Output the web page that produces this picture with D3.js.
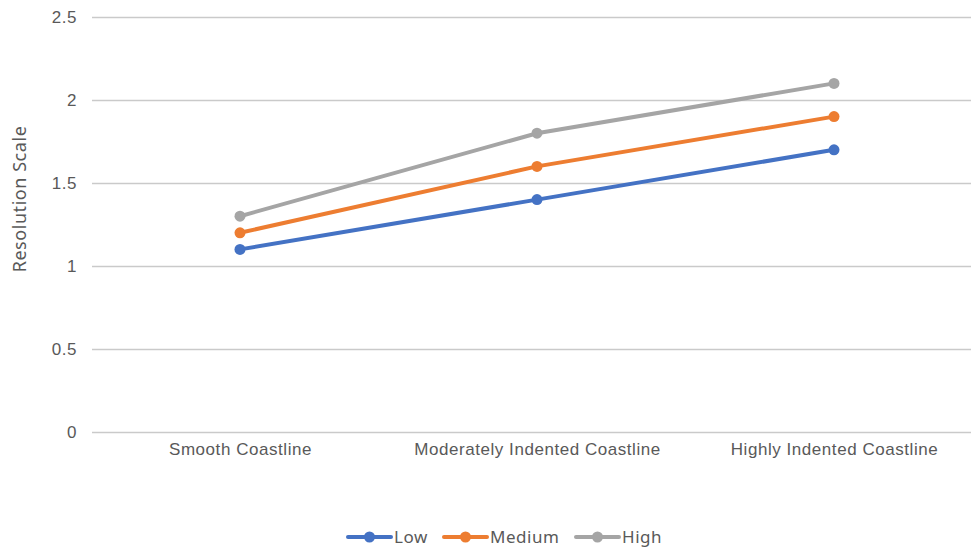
<!DOCTYPE html>
<html><head><meta charset="utf-8">
<script src="https://cdn.jsdelivr.net/npm/d3@7"></script>
<style>body{margin:0;background:#fff;}svg{display:block;font-family:"Noto Sans","Open Sans",sans-serif;}
text{letter-spacing:0.55px;}</style>
</head><body><svg id="c" width="971" height="547"></svg>
<script>
const categories = ["Smooth Coastline", "Moderately Indented Coastline", "Highly Indented Coastline"];
const seriesNames = ["Low", "Medium", "High"];
const lowValues = [1.1, 1.4, 1.7];
const mediumValues = [1.2, 1.6, 1.9];
const highValues = [1.3, 1.8, 2.1];
const yTicks = [0, 0.5, 1, 1.5, 2, 2.5];
const colors = ["#4472C4", "#ED7D31", "#A5A5A5"];
const series = [lowValues, mediumValues, highValues];

const svg = d3.select("#c");
const x = d3.scalePoint().domain(categories).range([240, 834]);
const y = d3.scaleLinear().domain([0, 2.5]).range([432, 17]);

// gridlines
const gy = svg.append("g").attr("transform", "translate(92,0)")
  .call(d3.axisLeft(y).tickValues(yTicks).tickSize(-900).tickFormat(d => d3.format("~g")(d)).tickPadding(15));
gy.select(".domain").remove();
gy.selectAll(".tick line").attr("stroke", "#CACACA").attr("stroke-width", 1.5);
gy.selectAll(".tick text").attr("fill", "#595959").style("font-size", "17px");

// x axis labels
const gx = svg.append("g").attr("transform", "translate(0,432)")
  .call(d3.axisBottom(x).tickSize(0).tickPadding(11));
gx.select(".domain").remove();
gx.selectAll(".tick text").attr("fill", "#595959").style("font-size", "17px");

// y title
svg.append("text").attr("transform", "translate(26,199) rotate(-90)")
  .attr("text-anchor", "middle").attr("fill", "#595959").style("font-size", "18px")
  .text("Resolution Scale");

const line = d3.line().x((d, i) => x(categories[i])).y(d => y(d));
series.forEach((vals, s) => {
  svg.append("path").datum(vals).attr("d", line).attr("fill", "none")
    .attr("stroke", colors[s]).attr("stroke-width", 4).attr("stroke-linecap", "round");
  svg.selectAll(null).data(vals).enter().append("circle")
    .attr("cx", (d, i) => x(categories[i])).attr("cy", d => y(d)).attr("r", 5.5)
    .attr("fill", colors[s]);
});

// legend
const legendX = [348, 444, 576];
const lg = svg.append("g");
seriesNames.forEach((n, i) => {
  const g = lg.append("g").attr("transform", `translate(${legendX[i]},537)`);
  g.append("line").attr("x1", 0).attr("x2", 43).attr("y1", 0).attr("y2", 0)
    .attr("stroke", colors[i]).attr("stroke-width", 4).attr("stroke-linecap", "round");
  g.append("circle").attr("cx", 21.5).attr("cy", 0).attr("r", 5.5).attr("fill", colors[i]);
  g.append("text").attr("x", 46).attr("y", 6).attr("fill", "#595959").style("font-size", "17px").text(n);
});
</script></body></html>
